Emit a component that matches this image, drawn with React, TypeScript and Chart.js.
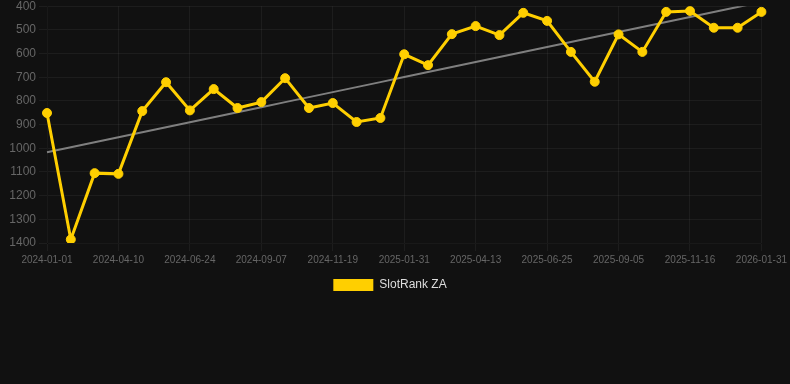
import React, { useEffect, useRef } from "react";
import { Chart, registerables } from "chart.js";

Chart.register(...registerables);

const dates: string[] = [
  "2024-01-01", "2024-02-03", "2024-03-07", "2024-04-10", "2024-05-05", "2024-05-30",
  "2024-06-24", "2024-07-19", "2024-08-13", "2024-09-07", "2024-10-01", "2024-10-25",
  "2024-11-19", "2024-12-13", "2025-01-06", "2025-01-31", "2025-02-24", "2025-03-20",
  "2025-04-13", "2025-05-07", "2025-06-01", "2025-06-25", "2025-07-19", "2025-08-12",
  "2025-09-05", "2025-09-29", "2025-10-23", "2025-11-16", "2025-12-11", "2026-01-06",
  "2026-01-31",
];

const rankZA: number[] = [
  851, 1385, 1105, 1108, 843, 721, 840, 750, 830, 805, 704, 830, 809, 889, 872, 603,
  649, 518, 484, 522, 428, 462, 593, 719, 519, 593, 424, 420, 491, 491, 424,
];

const seriesLabel = "SlotRank ZA";
const yTicksMin = 400;
const yTicksMax = 1400;
const yTickStep = 100;

function regression(vals: number[]): number[] {
  const n = vals.length;
  let sx = 0, sy = 0, sxy = 0, sxx = 0;
  vals.forEach((v, i) => { sx += i; sy += v; sxy += i * v; sxx += i * i; });
  const b = (n * sxy - sx * sy) / (n * sxx - sx * sx);
  const a = (sy - b * sx) / n;
  return vals.map((_, i) => a + b * i);
}

export default function App() {
  const ref = useRef<HTMLCanvasElement | null>(null);

  useEffect(() => {
    document.body.style.margin = "0";
    document.body.style.background = "#111111";
    if (!ref.current) return;
    const chart = new Chart(ref.current, {
      type: "line",
      data: {
        labels: dates,
        datasets: [
          {
            label: seriesLabel,
            data: rankZA,
            borderColor: "#FFCF00",
            backgroundColor: "#FFCF00",
            borderWidth: 3,
            pointRadius: 4.5,
            pointBorderWidth: 1,
            pointBackgroundColor: "#FFCF00",
            pointBorderColor: "#FFCF00",
            tension: 0,
            order: 1,
          },
          {
            label: "trend",
            data: regression(rankZA),
            borderColor: "rgba(140,140,140,0.9)",
            borderWidth: 2,
            pointRadius: 0,
            fill: false,
            order: 2,
          },
        ],
      },
      options: {
        animation: false,
        responsive: true,
        maintainAspectRatio: false,
        layout: { padding: { top: 0, right: 10, left: 0, bottom: 0 } },
        plugins: {
          legend: {
            position: "bottom",
            labels: {
              color: "#dddddd",
              font: { size: 12 },
              boxWidth: 40,
              boxHeight: 12,
              filter: (item) => item.text !== "trend",
              generateLabels: (c) =>
                Chart.defaults.plugins.legend.labels
                  .generateLabels(c)
                  .map((l) => ({ ...l, lineWidth: 0 })),
            },
          },
          tooltip: { enabled: false },
        },
        scales: {
          x: {
            grid: { color: "rgba(255,255,255,0.05)" },
            ticks: {
              color: "#666666",
              font: { size: 10 },
              autoSkip: false,
              maxRotation: 0,
              callback: function (_v, index) {
                return index % 3 === 0 ? dates[index] : null;
              },
            },
          },
          y: {
            reverse: true,
            min: yTicksMin,
            max: yTicksMax,
            grid: { color: "rgba(255,255,255,0.05)" },
            afterFit: (scale) => { scale.width = 47; },
            ticks: {
              color: "#666666",
              font: { size: 12 },
              stepSize: yTickStep,
              callback: (v) => String(v),
            },
          },
        },
      },
    });
    return () => chart.destroy();
  }, []);

  return (
    <div style={{ width: 790, height: 384, background: "#111111", overflow: "hidden" }}>
      <div style={{ position: "relative", width: 790, height: 305, marginTop: -4 }}>
        <canvas ref={ref} />
      </div>
    </div>
  );
}
